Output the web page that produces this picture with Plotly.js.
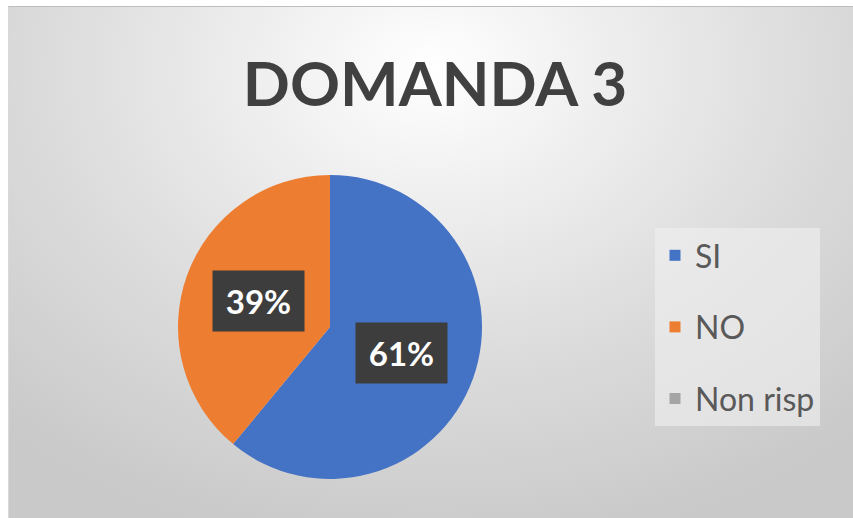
<!DOCTYPE html>
<html>
<head>
<meta charset="utf-8">
<script src="https://cdn.plot.ly/plotly-3.0.1.min.js"></script>
<style>
  html, body { margin: 0; padding: 0; background: #ffffff; }
  #wrap { position: relative; width: 853px; height: 518px; overflow: hidden; }
  #bg { position: absolute; left: 8px; top: 6px; right: 0; bottom: 0;
        background: radial-gradient(ellipse 75% 95% at 50% 12%, #ffffff 0%, #f0f0f0 25%, #dcdcdc 60%, #c9c9c9 100%);
        border-top: 1px solid #bdbdbd; border-left: 1px solid #d8d8d8; }
  #chart { position: absolute; left: 0; top: 0; width: 853px; height: 518px; }
</style>
</head>
<body>
<div id="wrap"><div id="bg"></div><div id="chart"></div></div>
<script>
// ---- data ----
const categories = ["SI", "NO", "Non risp"];
const values = [61, 39, 0];
const colors = ["#4472C4", "#ED7D31", "#A5A5A5"];
const chartTitle = "DOMANDA 3";

// ---- geometry (layout only) ----
const W = 853, H = 518;
const cx = 330, cy = 327, R = 152;
const dom = { x: [(cx - R) / W, (cx + R) / W], y: [(H - cy - R) / H, (H - cy + R) / H] };

const pie = {
  type: "pie",
  labels: categories,
  values: values,
  sort: false,
  direction: "clockwise",
  rotation: 0,
  marker: { colors: colors, line: { width: 0 } },
  textinfo: "none",
  hoverinfo: "label+percent",
  showlegend: false,
  domain: dom
};

// legend entries (one per category)
const legendTraces = categories.map((c, i) => ({
  type: "scatter", mode: "markers", x: [null], y: [null],
  name: c, legendgroup: c, showlegend: true,
  marker: { symbol: "square", size: 11, color: colors[i] },
  hoverinfo: "skip"
}));

// percentage labels computed from values
const total = values.reduce((a, b) => a + b, 0);
const annotations = [];
let cum = 0;
values.forEach((v, i) => {
  if (v > 0) {
    const frac = (cum + v / 2) / total;
    const th = 2 * Math.PI * frac;
    const rl = 0.5 * R;
    const px = cx + rl * Math.sin(th);
    const py = cy - rl * Math.cos(th);
    annotations.push({
      xref: "paper", yref: "paper", x: px / W, y: (H - py) / H,
      xanchor: "center", yanchor: "middle", showarrow: false,
      text: Math.round(v / total * 100) + "%",
      font: { family: "Lato, sans-serif", size: 33, color: "#ffffff", weight: "bold" },
      bgcolor: "#3d3d3d", borderpad: 4, width: 83, height: 52
    });
  }
  cum += v;
});

const layout = {
  width: W, height: H,
  margin: { l: 0, r: 0, t: 0, b: 0 },
  paper_bgcolor: "rgba(0,0,0,0)",
  plot_bgcolor: "rgba(0,0,0,0)",
  title: {
    text: chartTitle,
    x: 0.51, xanchor: "center", xref: "paper",
    y: 1 - 84 / H, yanchor: "middle", yref: "paper",
    font: { family: "Lato, sans-serif", size: 62, color: "#404040", weight: "bold" }
  },
  xaxis: { visible: false, domain: [0.9, 0.91] },
  yaxis: { visible: false, domain: [0.9, 0.91] },
  showlegend: true,
  legend: {
    x: 655 / W, xanchor: "left", y: 1 - 228 / H, yanchor: "top",
    bgcolor: "rgba(240,240,240,0.6)", borderwidth: 0,
    font: { family: "Lato, sans-serif", size: 32, color: "#595959" },
    tracegroupgap: 27, traceorder: "grouped", itemclick: false,
    entrywidth: 150
  },
  annotations: annotations
};

Plotly.newPlot("chart", [pie].concat(legendTraces), layout, { displayModeBar: false, staticPlot: true });
</script>
</body>
</html>
